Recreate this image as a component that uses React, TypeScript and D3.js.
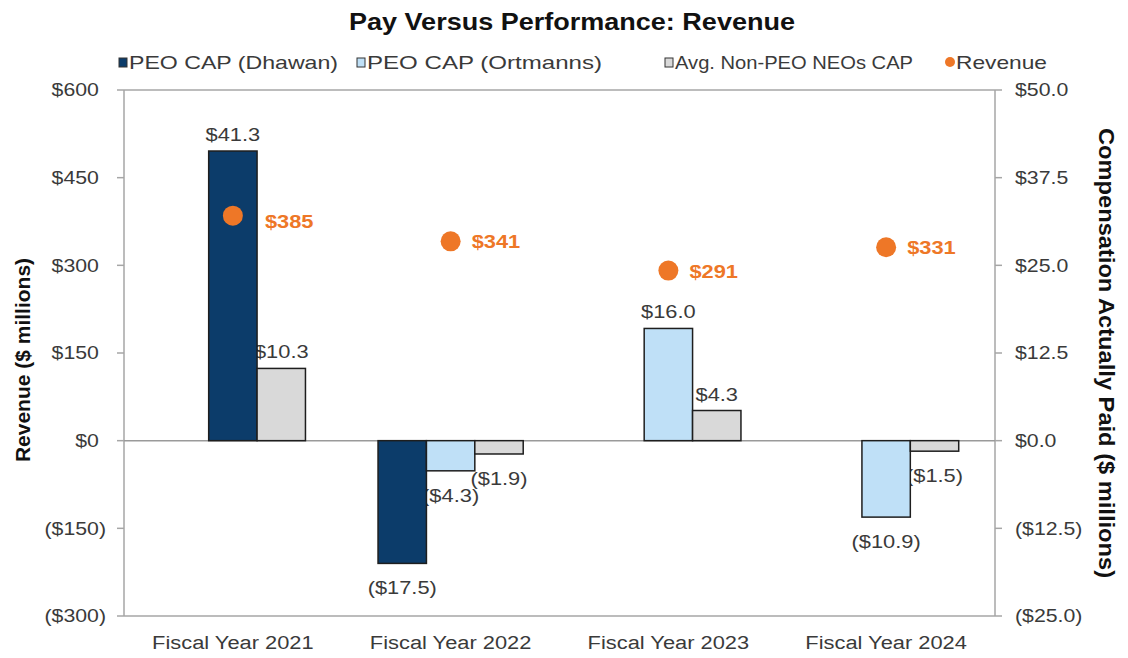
import React from 'react';
import * as d3 from 'd3';

// ---- data ----
const categories = ['Fiscal Year 2021', 'Fiscal Year 2022', 'Fiscal Year 2023', 'Fiscal Year 2024'];
const dhawanCAP: (number | null)[] = [41.3, -17.5, null, null];
const ortmannsCAP: (number | null)[] = [null, -4.3, 16.0, -10.9];
const neoCAP: (number | null)[] = [10.3, -1.9, 4.3, -1.5];
const revenue = [385, 341, 291, 331];
const revenueTicks = [600, 450, 300, 150, 0, -150, -300];
const capTicks = [50, 37.5, 25, 12.5, 0, -12.5, -25];
const legendLabels = ['PEO CAP (Dhawan)', 'PEO CAP (Ortmanns)', 'Avg. Non-PEO NEOs CAP', 'Revenue'];

// ---- layout / style ----
const W = 1128, H = 658;
const L = 124, R = 995, TOP = 90, BOT = 616;
const SX = 1.15;
const FONT = '"Liberation Sans", Arial, Helvetica, sans-serif';
const TXT = '#3a3a3a';
const ORANGE = '#ee7727';
const colors = ['#0c3c6a', '#bfe0f7', '#d9d9d9'];
const dhawanSlot = [1, 0, 0, 0];
const revLabelDx = [32, 21, 21, 21];
const revLabelDy = [5, 0, 0, 0];
const legendX = [119, 357, 665, 946];
const legendTextW = [209, 235, 238, 91];

const fmtMoney = (v: number, dec: number) =>
  v < 0 ? `($${Math.abs(v).toFixed(dec)})` : `$${v.toFixed(dec)}`;

function T(props: any) {
  const { x, y, children, anchor = 'start', size = 18.5, weight = 'normal', fill = TXT, baseline, sx = SX } = props;
  return (
    <text
      transform={`translate(${x},${y}) scale(${sx},1)`}
      textAnchor={anchor}
      fontSize={size}
      fontWeight={weight}
      fill={fill}
      fontFamily={FONT}
      dominantBaseline={baseline}
    >
      {children}
    </text>
  );
}

export default function App() {
  const x0 = d3.scaleBand<string>().domain(categories).range([L, R]).padding(0);
  const bw = x0.bandwidth();
  const x1 = d3.scaleBand<number>().domain([0, 1, 2]).range([0, bw]).paddingInner(0).paddingOuter(0.75);
  const yRev = d3.scaleLinear().domain([-300, 600]).range([BOT, TOP]);
  const yCap = d3.scaleLinear().domain([-25, 50]).range([BOT, TOP]);

  type Bar = { cat: string; v: number; slot: number; color: string };
  const bars: Bar[] = [];
  categories.forEach((c, i) => {
    if (dhawanCAP[i] != null) bars.push({ cat: c, v: dhawanCAP[i] as number, slot: dhawanSlot[i], color: colors[0] });
    if (ortmannsCAP[i] != null) bars.push({ cat: c, v: ortmannsCAP[i] as number, slot: 1, color: colors[1] });
    if (neoCAP[i] != null) bars.push({ cat: c, v: neoCAP[i] as number, slot: 2, color: colors[2] });
  });

  const barX = (b: Bar) => (x0(b.cat) as number) + (x1(b.slot) as number);
  const y0 = yCap(0);
  const parenW = 0.333 * 18.5 * SX;

  return (
    <svg width={W} height={H} style={{ position: 'absolute', left: 0, top: 0, background: '#fff' }}>
      <rect x={0} y={0} width={W} height={H} fill="#fff" />
      {/* title */}
      <T x={572} y={30} anchor="middle" size={23.5} weight="bold" fill="#111">Pay Versus Performance: Revenue</T>

      {/* legend */}
      {legendLabels.map((lab, i) => (
        <g key={lab}>
          {i < 3 ? (
            <rect x={legendX[i]} y={58} width={8} height={9} fill={colors[i]} stroke="#333" strokeWidth={1} />
          ) : (
            <circle cx={legendX[i] + 4} cy={62} r={5} fill={ORANGE} />
          )}
          <text
            x={legendX[i] + 10}
            y={69}
            fontSize={18.5}
            fill={TXT}
            fontFamily={FONT}
            textLength={legendTextW[i]}
            lengthAdjust="spacingAndGlyphs"
          >
            {lab}
          </text>
        </g>
      ))}

      {/* frame */}
      <line x1={L} x2={R} y1={TOP} y2={TOP} stroke="#a6a6a6" strokeWidth={1.5} />
      <line x1={L} x2={R} y1={BOT} y2={BOT} stroke="#a6a6a6" strokeWidth={1.5} />
      <line x1={L} x2={L} y1={TOP} y2={BOT} stroke="#a6a6a6" strokeWidth={1.5} />
      <line x1={R} x2={R} y1={TOP} y2={BOT} stroke="#a6a6a6" strokeWidth={1.5} />
      <line x1={L} x2={R} y1={y0} y2={y0} stroke="#9a9a9a" strokeWidth={1.5} />

      {/* left ticks */}
      {revenueTicks.map((t) => (
        <g key={'l' + t}>
          <line x1={L - 7} x2={L} y1={yRev(t)} y2={yRev(t)} stroke="#a6a6a6" strokeWidth={1.5} />
          <T x={t < 0 ? 106 : 106 - parenW} y={yRev(t)} anchor="end" baseline="central">
            {fmtMoney(t, 0)}
          </T>
        </g>
      ))}
      {/* right ticks */}
      {capTicks.map((t) => (
        <g key={'r' + t}>
          <line x1={R} x2={R + 7} y1={yCap(t)} y2={yCap(t)} stroke="#a6a6a6" strokeWidth={1.5} />
          <T x={1015} y={yCap(t)} anchor="start" baseline="central">
            {fmtMoney(t, 1)}
          </T>
        </g>
      ))}

      {/* x labels */}
      {categories.map((c) => (
        <T key={c} x={(x0(c) as number) + bw / 2} y={649} anchor="middle" size={19}>{c}</T>
      ))}

      {/* axis titles */}
      <text transform={`translate(30,360) rotate(-90)`} textAnchor="middle" fontSize={21} fontWeight="bold" fill="#111" fontFamily={FONT}>
        Revenue ($ millions)
      </text>
      <text
        transform={`translate(1099,353) rotate(90)`}
        textAnchor="middle"
        fontSize={22}
        fontWeight="bold"
        fill="#111"
        fontFamily={FONT}
        textLength={450}
        lengthAdjust="spacingAndGlyphs"
      >
        Compensation Actually Paid ($ millions)
      </text>

      {/* bar value labels (under bars) */}
      {bars.map((b, i) => {
        const cx = barX(b) + x1.bandwidth() / 2;
        const yv = yCap(b.v);
        return (
          <T key={'bl' + i} x={cx} y={b.v >= 0 ? yv - 10 : yv + 31} anchor="middle" size={19}>
            {fmtMoney(b.v, 1)}
          </T>
        );
      })}

      {/* bars */}
      {bars.map((b, i) => (
        <rect
          key={'b' + i}
          x={barX(b)}
          y={Math.min(yCap(b.v), y0)}
          width={x1.bandwidth()}
          height={Math.abs(yCap(b.v) - y0)}
          fill={b.color}
          stroke="#1e1e1e"
          strokeWidth={1.5}
        />
      ))}

      {/* revenue points */}
      {revenue.map((r, i) => {
        const cx = (x0(categories[i]) as number) + bw / 2;
        const cy = yRev(r);
        return (
          <g key={'rv' + i}>
            <circle cx={cx} cy={cy} r={10} fill={ORANGE} />
            <T x={cx + revLabelDx[i]} y={cy + revLabelDy[i]} baseline="central" size={19} weight="bold" fill={ORANGE}>
              {`$${r}`}
            </T>
          </g>
        );
      })}
    </svg>
  );
}
